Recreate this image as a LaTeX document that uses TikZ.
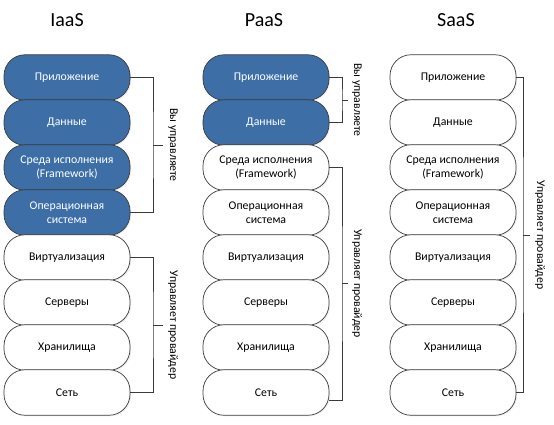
\documentclass[tikz,border=0pt]{standalone}
\usepackage{fontspec}
\setmainfont{Carlito}
\usetikzlibrary{shadows}
\definecolor{boxblue}{HTML}{3D6FA6}
\definecolor{edgegray}{HTML}{3A3A3A}
\tikzset{
  x=1pt, y=-1pt,
  boxw/.style={draw=edgegray, line width=0.7pt, fill=white, rounded corners=21pt,
    minimum width=126pt, minimum height=45.5pt, align=center,
    font=\fontsize{11.8}{13.8}\selectfont, text=black,
    drop shadow={opacity=0.12, shadow xshift=1.2pt, shadow yshift=-1.2pt}},
  boxb/.style={boxw, fill=boxblue, text=white},
  ttl/.style={font=\fontsize{20}{24}\selectfont, text=black},
  brk/.style={draw=edgegray, line width=0.7pt},
  blab/.style={rotate=-90, anchor=south, inner sep=0pt, font=\fontsize{11.8}{13.8}\selectfont, text=black}
}
\begin{document}
\begin{tikzpicture}
\useasboundingbox (0,0) rectangle (554,424);
% titles
\node[ttl] (t1) at (67,20) {IaaS};
\node[ttl] (t2) at (264,20) {PaaS};
\node[ttl] (t3) at (456,20) {SaaS};
% IaaS column
\node[boxb] (a1) at (67,77.5) {Приложение};
\node[boxb] (a2) at (67,122.5) {Данные};
\node[boxb] (a3) at (67,167.5) {Среда исполнения\\(Framework)};
\node[boxb] (a4) at (67,212.5) {Операционная\\система};
\node[boxw] (a5) at (67,257.5) {Виртуализация};
\node[boxw] (a6) at (67,302.5) {Серверы};
\node[boxw] (a7) at (67,347.5) {Хранилища};
\node[boxw] (a8) at (67,392.5) {Сеть};
% PaaS column
\node[boxb] (b1) at (266,77.5) {Приложение};
\node[boxb] (b2) at (266,122.5) {Данные};
\node[boxw] (b3) at (266,167.5) {Среда исполнения\\(Framework)};
\node[boxw] (b4) at (266,212.5) {Операционная\\система};
\node[boxw] (b5) at (266,257.5) {Виртуализация};
\node[boxw] (b6) at (266,302.5) {Серверы};
\node[boxw] (b7) at (266,347.5) {Хранилища};
\node[boxw] (b8) at (266,392.5) {Сеть};
% SaaS column
\node[boxw] (c1) at (453,77.5) {Приложение};
\node[boxw] (c2) at (453,122.5) {Данные};
\node[boxw] (c3) at (453,167.5) {Среда исполнения\\(Framework)};
\node[boxw] (c4) at (453,212.5) {Операционная\\система};
\node[boxw] (c5) at (453,257.5) {Виртуализация};
\node[boxw] (c6) at (453,302.5) {Серверы};
\node[boxw] (c7) at (453,347.5) {Хранилища};
\node[boxw] (c8) at (453,392.5) {Сеть};
% IaaS brackets
\coordinate (ia) at (153,145);
\coordinate (ib) at (153,325);
\draw[brk] (a1.east) -| (ia) |- (a4.east);
\draw[brk] (ia) -- ++(10,0) coordinate (iat);
\node[blab] (la) at ([xshift=5pt]iat) {Вы управляете};
\draw[brk] (a5.east) -| (ib) |- (a8.east);
\draw[brk] (ib) -- ++(10,0) coordinate (ibt);
\node[blab] (lb) at ([xshift=5pt]ibt) {Управляет провайдер};
% PaaS brackets
\coordinate (pa) at (342,100);
\coordinate (pb) at (342,283.5);
\draw[brk] (b1.east) -| (pa) |- (b2.east);
\draw[brk] (pa) -- ++(6,0) coordinate (pat);
\node[blab] (lc) at ([xshift=4pt]pat) {Вы управляете};
\draw[brk] (b3.east) -| (pb) |- ([yshift=-8pt]b8.east);
\draw[brk] (pb) -- ++(6,0) coordinate (pbt);
\node[blab] (ld) at ([xshift=4pt]pbt) {Управляет провайдер};
% SaaS bracket
\coordinate (sa) at (523,235);
\draw[brk] (c1.east) -| (sa) |- (c8.east);
\draw[brk] (sa) -- ++(7,0) coordinate (sat);
\node[blab] (le) at ([xshift=5pt]sat) {Управляет провайдер};
\end{tikzpicture}
\end{document}
